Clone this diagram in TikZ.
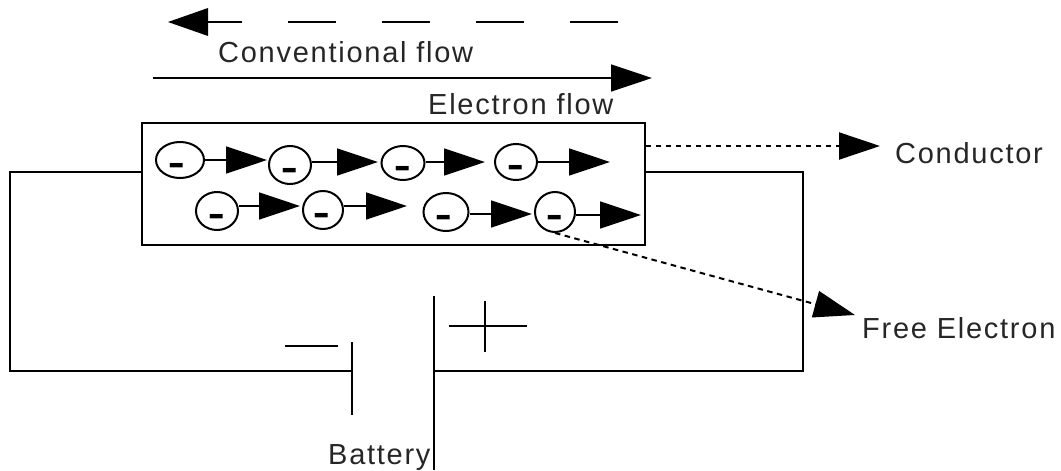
\documentclass[tikz,border=0pt]{standalone}
\usepackage{fontspec}
\setmainfont{Liberation Sans}
\newfontfamily\lblfont[LetterSpace=6]{Liberation Sans}
\newfontfamily\barfont{Liberation Sans Bold}
\usetikzlibrary{arrows.meta,shapes.geometric}
\tikzset{
  wire/.style={draw=black,line width=1.6pt},
  flow/.style={wire,-{Triangle[length=41pt,width=27pt]}},
  dotflow/.style={draw=black,line width=2pt,dash pattern=on 5.5pt off 4.5pt,-{Triangle[length=41pt,width=27pt]}},
  elec/.style={draw=black,line width=2pt,ellipse,inner sep=0pt,minimum width=#1},
  lbl/.style={font=\fontsize{29}{29}\lblfont,inner sep=0pt,anchor=base west,text=black!85},
  minusbar/.style={font=\fontsize{26}{26}\barfont,inner sep=0pt,anchor=base},
}
\begin{document}
\begin{tikzpicture}[x=1pt,y=-1pt]
\useasboundingbox (0,0) rectangle (1061,471);
% labels
\node[lbl] (conv) at (218,62) {Conventional flow};
\node[lbl] (eflow) at (428,114) {Electron flow};
\node[lbl] (cond) at (895,163) {Conductor};
\node[lbl] (free) at (862,338) {Free Electron};
\node[lbl] (batt) at (328,464) {Battery};
% top arrows
\coordinate (cr) at (618,22); \coordinate (cl) at (168,22);
\draw[wire,dash pattern=on 48pt off 46pt] (cr) -- (cl);
\fill (cl) -- (208,8) -- (208,36) -- cycle;
\coordinate (el) at (153,78); \coordinate (er) at (652,78);
\draw[flow] (el) -- (er);
% conductor
\node[draw=black,line width=1.6pt,minimum width=503pt,minimum height=122pt,inner sep=0pt,anchor=north west] (rod) at (141.2,122.2) {};
% circuit
\coordinate (lc1) at (10,172); \coordinate (lc2) at (10,371);
\coordinate (rc1) at (803,172); \coordinate (rc2) at (803,371);
\coordinate (pn1) at (352,342); \coordinate (pn2) at (352,415);
\coordinate (pp1) at (434,296); \coordinate (pp2) at (434,470);
\draw[wire] (rod.west |- lc1) -- (lc1) -- (lc2) -- (pn1 |- lc2);
\draw[wire] (pp1 |- rc2) -- (rc2) -- (rc1) -- (rod.east |- rc1);
\draw[wire] (pn1) -- (pn2);
\draw[wire] (pp1) -- (pp2);
\coordinate (ma) at (285,346); \coordinate (mb) at (338,346);
\draw[wire] (ma) -- (mb);
\coordinate (pa) at (449,326); \coordinate (pb) at (527,326);
\coordinate (pc) at (485,301); \coordinate (pd) at (485,352);
\draw[wire] (pa) -- (pb);
\draw[wire] (pc) -- (pd);
% electrons
\foreach \n/\x/\y/\w/\h/\mx in {a/180/160/48/36/177,b/290/165/42/38/290,c/403/163/43/34/403,d/516/162/42/36/516,e/217/211/42/38/217,f/323/210/40/38/322,g/446/212/45/38/444,h/555/212/40/40/555}{
  \node[elec=\w pt,minimum height=\h pt] (\n) at (\x,\y) {};
  \node[minusbar] (m\n) at (\mx,\y+17.5) {\scalebox{1}[1.7]{–}};
}
% arrows
\coordinate (ta) at (267,160); \coordinate (tb) at (378,162); \coordinate (tc) at (485,162);
\coordinate (td) at (610,162); \coordinate (te) at (300,206); \coordinate (tf) at (407,206);
\coordinate (tg) at (532,214); \coordinate (th) at (641,215);
\draw[flow] (a.east |- ta) -- (ta);
\draw[flow] (b.east |- tb) -- (tb);
\draw[flow] (c.east |- tc) -- (tc);
\draw[flow] (d.east |- td) -- (td);
\draw[flow] (e.east |- te) -- (te);
\draw[flow] (f.east |- tf) -- (tf);
\draw[flow] (g.east |- tg) -- (tg);
\draw[flow] (h.east |- th) -- (th);
% dotted
\coordinate (t4) at (880,146); \coordinate (t5) at (855,315);
\draw[dotflow] (rod.east |- t4) -- (t4);
\draw[dotflow] (h.south) -- (t5);
\end{tikzpicture}
\end{document}
